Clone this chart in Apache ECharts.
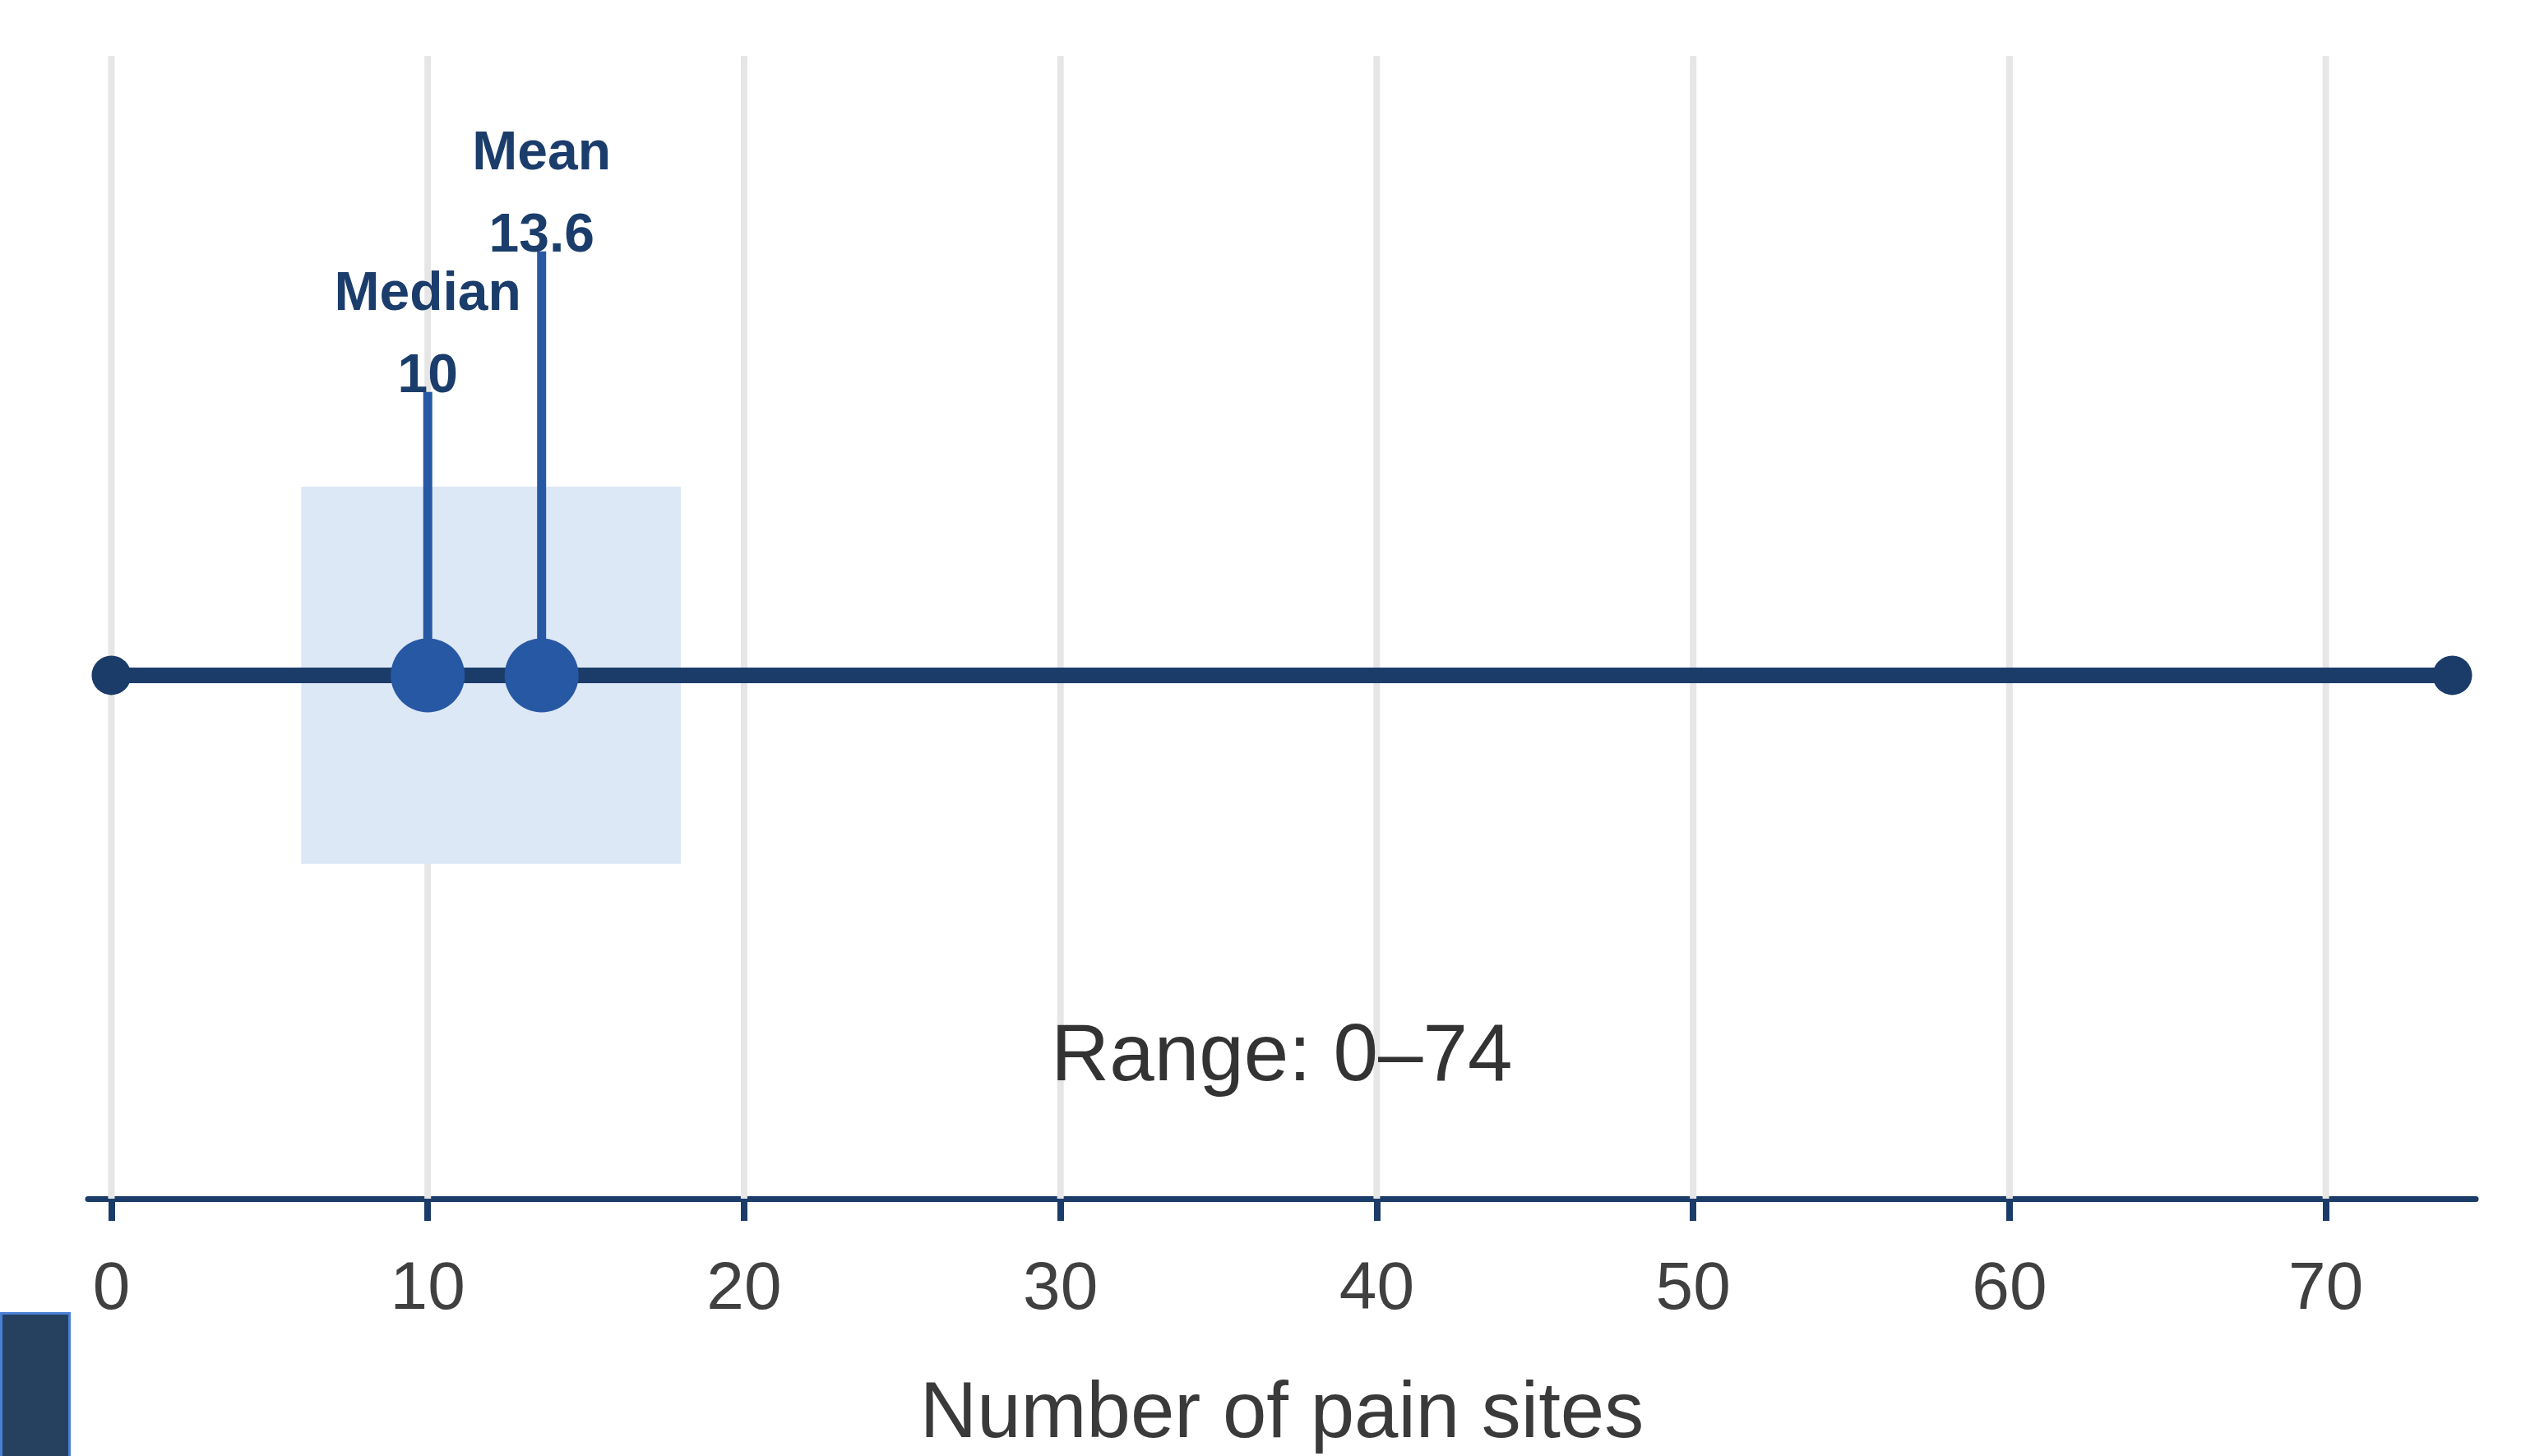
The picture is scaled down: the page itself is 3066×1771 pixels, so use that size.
<!DOCTYPE html>
<html>
<head>
<meta charset="utf-8">
<title>Number of pain sites</title>
<script src="https://cdn.jsdelivr.net/npm/echarts@6/dist/echarts.min.js"></script>
<style>
  html, body { margin: 0; padding: 0; background: #fff; }
  #chart { width: 3066px; height: 1771px; }
</style>
</head>
<body>
<div id="chart"></div>
<script>
// data
const tickValues = [0, 10, 20, 30, 40, 50, 60, 70];
const rangeMin = 0;
const rangeMax = 74;
const q1 = 6;
const q3 = 18;
const statNames = ["Median", "Mean"];
const statValues = [10, 13.6];

// layout (y is an arbitrary 0-100 scale, hidden)
const lineY = 45.8;
const boxTop = 62.3;
const boxBottom = 29.3;
const stemTops = [70.6, 82.9];
const rangeLabelY = 12.3;

const navy = "#1b3c69";
const blue = "#2758a4";
const font = "'Liberation Sans', Arial, Helvetica, sans-serif";

const chart = echarts.init(document.getElementById("chart"));

const option = {
  backgroundColor: "#fff",
  animation: false,
  grid: { left: 107, right: 55, top: 68, bottom: 313, outerBoundsMode: "none", containLabel: false },
  xAxis: {
    type: "value",
    min: -0.74,
    max: 74.74,
    name: "Number of pain sites",
    nameLocation: "middle",
    nameGap: 216,
    nameTextStyle: { fontSize: 96, color: "#3a3a3a", fontFamily: font },
    axisLine: { show: true, lineStyle: { color: navy, width: 7 } },
    axisTick: {
      show: true,
      customValues: tickValues,
      length: 27,
      lineStyle: { color: navy, width: 8 },
    },
    axisLabel: {
      customValues: tickValues,
      margin: 70,
      fontSize: 82,
      color: "#404040",
      fontFamily: font,
    },
    splitLine: { show: false },
  },
  yAxis: {
    type: "value",
    min: 0,
    max: 100,
    show: false,
  },
  graphic: [
    {
      type: "rect",
      left: 0,
      top: 1596,
      shape: { width: 83, height: 180 },
      style: { fill: "#26405f", stroke: "#4a80d4", lineWidth: 3 },
    },
  ],
  series: [
    // vertical grid lines at the tick values
    {
      type: "custom",
      z: 1,
      silent: true,
      data: tickValues.map(v => [v]),
      renderItem: function (params, api) {
        const top = api.coord([api.value(0), 100]);
        const bot = api.coord([api.value(0), 0]);
        return {
          type: "line",
          shape: { x1: top[0], y1: top[1], x2: bot[0], y2: bot[1] },
          style: { stroke: "#e6e6e6", lineWidth: 8 },
        };
      },
    },
    // IQR box
    {
      type: "custom",
      z: 2,
      silent: true,
      data: [[q1, q3]],
      renderItem: function (params, api) {
        const p1 = api.coord([api.value(0), boxTop]);
        const p2 = api.coord([api.value(1), boxBottom]);
        return {
          type: "rect",
          shape: { x: p1[0], y: p1[1], width: p2[0] - p1[0], height: p2[1] - p1[1] },
          style: { fill: "#dde8f6" },
        };
      },
    },
    // range line with end dots
    {
      type: "line",
      z: 3,
      silent: true,
      data: [[rangeMin, lineY], [rangeMax, lineY]],
      symbol: "circle",
      symbolSize: 48,
      itemStyle: { color: navy },
      lineStyle: { color: navy, width: 19 },
    },
    // median and mean: stem, dot and label
    {
      type: "custom",
      z: 4,
      silent: true,
      data: statValues.map((v, i) => [v, i]),
      renderItem: function (params, api) {
        const i = api.value(1);
        const base = api.coord([api.value(0), lineY]);
        const top = api.coord([api.value(0), stemTops[i]]);
        const textStyle = {
          fontSize: 66,
          fontWeight: "bold",
          fontFamily: font,
          fill: "#1b3d6b",
          align: "center",
          verticalAlign: "middle",
        };
        return {
          type: "group",
          children: [
            {
              type: "line",
              shape: { x1: base[0], y1: base[1], x2: top[0], y2: top[1] },
              style: { stroke: blue, lineWidth: 11 },
            },
            {
              type: "circle",
              shape: { cx: base[0], cy: base[1], r: 45 },
              style: { fill: blue },
            },
            {
              type: "text",
              z2: 5,
              style: Object.assign({ text: statNames[i], x: top[0], y: top[1] - 118 }, textStyle),
            },
            {
              type: "text",
              z2: 5,
              style: Object.assign({ text: String(statValues[i]), x: top[0], y: top[1] - 18 }, textStyle),
            },
          ],
        };
      },
    },
    // range label
    {
      type: "custom",
      z: 5,
      silent: true,
      data: [[(rangeMin + rangeMax) / 2, rangeLabelY]],
      renderItem: function (params, api) {
        const p = api.coord([api.value(0), api.value(1)]);
        return {
          type: "text",
          style: {
            text: "Range: " + rangeMin + "\u2013" + rangeMax,
            x: p[0],
            y: p[1],
            fontSize: 98,
            fontFamily: font,
            fill: "#333333",
            align: "center",
            verticalAlign: "middle",
          },
        };
      },
    },
  ],
};

chart.setOption(option);
window.addEventListener("resize", () => {
  if (chart) {
    chart.resize();
  }
});
</script>
</body>
</html>
